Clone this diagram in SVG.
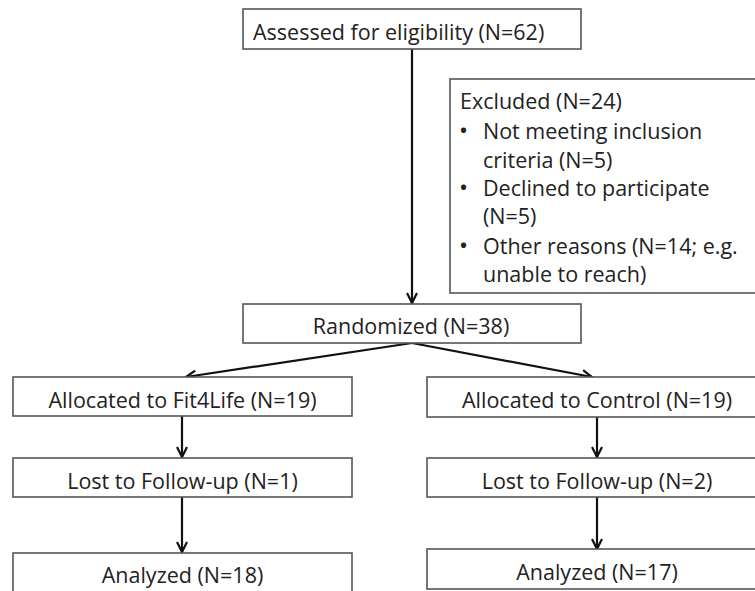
<svg xmlns="http://www.w3.org/2000/svg" width="755" height="591" viewBox="0 0 755 591">
<style>
.box{fill:#fff;stroke:#555;stroke-width:1.6}
.t{font-family:"Open Sans","Liberation Sans",sans-serif;font-size:21.5px;fill:#222}
.c{text-anchor:middle}
.b{font-size:24px}
.ln{stroke:#111;stroke-width:2.2;fill:none}
</style>
<defs>
<marker id="ah" viewBox="0 0 12 12" refX="11" refY="6" markerWidth="12" markerHeight="12" markerUnits="userSpaceOnUse" orient="auto">
<path d="M1,1 L11,6 L1,11" fill="none" stroke="#111" stroke-width="2.2"/>
</marker>
</defs>
<rect width="755" height="591" fill="#fff"/>
<g id="connectors">
<line class="ln" x1="412" y1="49" x2="412" y2="303" marker-end="url(#ah)"/>
<line class="ln" x1="412" y1="343" x2="186" y2="377" marker-end="url(#ah)"/>
<line class="ln" x1="412" y1="343" x2="592" y2="377" marker-end="url(#ah)"/>
<line class="ln" x1="182" y1="416" x2="182" y2="457" marker-end="url(#ah)"/>
<line class="ln" x1="182" y1="497" x2="182" y2="552" marker-end="url(#ah)"/>
<line class="ln" x1="597" y1="417" x2="597" y2="457" marker-end="url(#ah)"/>
<line class="ln" x1="597" y1="497" x2="597" y2="549" marker-end="url(#ah)"/>
</g>
<g id="assessed">
<rect class="box" x="243" y="9" width="338" height="40"/>
<text class="t" x="253" y="40">Assessed for eligibility (N=62)</text>
</g>
<g id="excluded">
<rect class="box" x="450" y="79" width="320" height="214"/>
<text class="t" x="460" y="109">Excluded (N=24)</text>
<text class="t b" x="459" y="139">•</text>
<text class="t" x="483" y="139">Not meeting inclusion</text>
<text class="t" x="483" y="168">criteria (N=5)</text>
<text class="t b" x="459" y="196">•</text>
<text class="t" x="483" y="196">Declined to participate</text>
<text class="t" x="483" y="224">(N=5)</text>
<text class="t b" x="459" y="254">•</text>
<text class="t" x="483" y="254">Other reasons (N=14; e.g.</text>
<text class="t" x="483" y="282">unable to reach)</text>
</g>
<g id="randomized">
<rect class="box" x="243" y="304" width="338" height="39"/>
<text class="t c" x="411" y="334">Randomized (N=38)</text>
</g>
<g id="alloc-fit">
<rect class="box" x="13" y="377" width="339" height="39"/>
<text class="t c" x="182.5" y="408">Allocated to Fit4Life (N=19)</text>
</g>
<g id="lost-fit">
<rect class="box" x="13" y="458" width="339" height="39"/>
<text class="t c" x="182.5" y="489">Lost to Follow-up (N=1)</text>
</g>
<g id="analyzed-fit">
<rect class="box" x="13" y="553" width="339" height="50"/>
<text class="t c" x="182.5" y="583">Analyzed (N=18)</text>
</g>
<g id="alloc-ctrl">
<rect class="box" x="427" y="377" width="340" height="40"/>
<text class="t c" x="597" y="408">Allocated to Control (N=19)</text>
</g>
<g id="lost-ctrl">
<rect class="box" x="427" y="458" width="340" height="39"/>
<text class="t c" x="597" y="489">Lost to Follow-up (N=2)</text>
</g>
<g id="analyzed-ctrl">
<rect class="box" x="427" y="549" width="340" height="40"/>
<text class="t c" x="597" y="580">Analyzed (N=17)</text>
</g>
</svg>
